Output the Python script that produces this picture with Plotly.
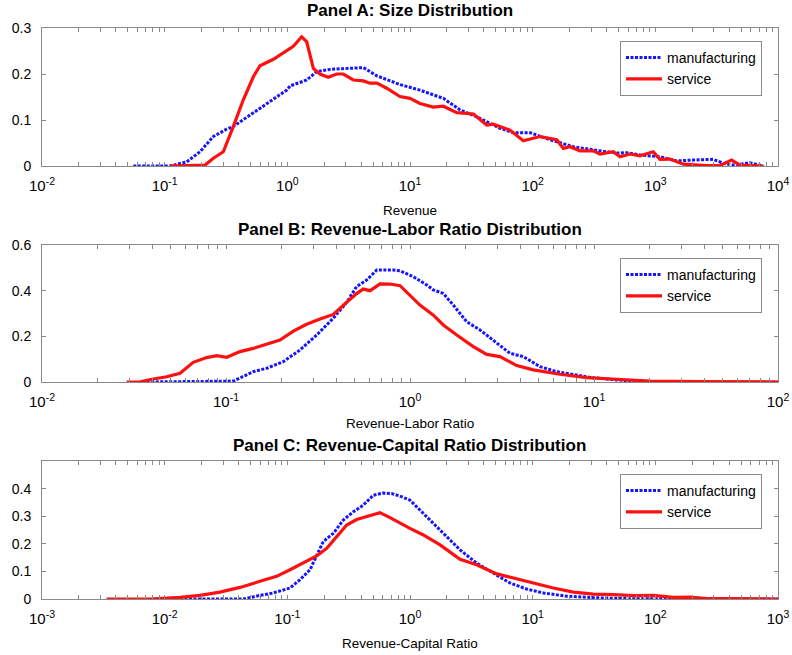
import numpy as np
import plotly.graph_objects as go

# Panel A: Size distribution (Revenue)
a_manu_exp = [-1.256, -0.957, -0.820, -0.712, -0.603, -0.495, -0.440, -0.277, -0.168, -0.005, 0.022,
              0.158, 0.239, 0.348, 0.620, 0.730, 0.918, 1.081, 1.272, 1.408, 1.544, 1.734, 1.842,
              1.978, 2.141, 2.331, 2.494, 2.685, 2.766, 2.875, 3.038, 3.174, 3.310, 3.473, 3.554,
              3.636, 3.772, 3.880]
a_manu_val = [0.000, 0.000, 0.009, 0.031, 0.064, 0.080, 0.086, 0.115, 0.136, 0.165, 0.174,
              0.187, 0.205, 0.210, 0.214, 0.196, 0.177, 0.165, 0.147, 0.122, 0.107, 0.082, 0.0725,
              0.0725, 0.057, 0.042, 0.035, 0.028, 0.029, 0.024, 0.020, 0.011, 0.013, 0.0145, 0.006,
              0.002, 0.007, 0.000]
a_serv_exp = [-0.957, -0.671, -0.603, -0.522, -0.440, -0.359, -0.277, -0.223, -0.114, -0.005, 0.049,
              0.117, 0.158, 0.212, 0.266, 0.334, 0.402, 0.456, 0.538, 0.620, 0.674, 0.730, 0.810,
              0.918, 1.000, 1.081, 1.190, 1.272, 1.381, 1.517, 1.625, 1.680, 1.815, 1.924, 2.060,
              2.196, 2.250, 2.304, 2.386, 2.494, 2.549, 2.658, 2.712, 2.793, 2.875, 2.983, 3.038,
              3.120, 3.228, 3.419, 3.527, 3.622, 3.690, 3.880]
a_serv_val = [0.000, 0.002, 0.017, 0.031, 0.086, 0.144, 0.194, 0.218, 0.232, 0.252, 0.260,
              0.281, 0.270, 0.212, 0.200, 0.193, 0.200, 0.200, 0.187, 0.185, 0.180, 0.180, 0.169,
              0.151, 0.147, 0.136, 0.128, 0.130, 0.116, 0.113, 0.089, 0.091, 0.078, 0.055, 0.064,
              0.057, 0.038, 0.042, 0.033, 0.033, 0.026, 0.031, 0.020, 0.026, 0.022, 0.031, 0.0145,
              0.015, 0.004, 0.001, 0.001, 0.013, 0.002, 0.000]

# Panel B: Revenue-Labor ratio distribution
b_manu_exp = [-1.431, -0.960, -0.852, -0.779, -0.689, -0.598, -0.507, -0.417, -0.344, -0.290,
              -0.235, -0.181, -0.091, -0.054, 0.018, 0.091, 0.127, 0.181, 0.235, 0.308, 0.380,
              0.471, 0.543, 0.616, 0.707, 0.797, 0.888, 0.978, 1.123, 1.304, 1.522, 2.000]
b_manu_val = [0.000, 0.004, 0.045, 0.060, 0.089, 0.140, 0.206, 0.279, 0.349, 0.418,
              0.447, 0.490, 0.490, 0.487, 0.461, 0.425, 0.403, 0.388, 0.337, 0.264, 0.228,
              0.169, 0.126, 0.111, 0.067, 0.045, 0.034, 0.020, 0.009, 0.000, 0.000, 0.000]
b_serv_exp = [-1.540, -1.467, -1.395, -1.322, -1.250, -1.178, -1.105, -1.050, -0.996, -0.924,
              -0.852, -0.779, -0.707, -0.634, -0.562, -0.489, -0.417, -0.344, -0.290, -0.254,
              -0.217, -0.163, -0.109, -0.054, 0.000, 0.054, 0.127, 0.181, 0.254, 0.344, 0.417,
              0.489, 0.580, 0.670, 0.815, 0.960, 1.123, 1.304, 1.576, 2.000]
b_serv_val = [0.000, 0.001, 0.013, 0.023, 0.038, 0.086, 0.107, 0.115, 0.108, 0.133,
              0.147, 0.165, 0.184, 0.223, 0.253, 0.276, 0.296, 0.349, 0.387, 0.407,
              0.400, 0.430, 0.429, 0.422, 0.381, 0.337, 0.293, 0.250, 0.206, 0.155, 0.121,
              0.111, 0.072, 0.053, 0.034, 0.019, 0.012, 0.004, 0.0015, 0.000]

# Panel C: Revenue-Capital ratio distribution
c_manu_exp = [-1.875, -1.359, -1.223, -1.114, -0.978, -0.897, -0.815, -0.761, -0.707, -0.625,
              -0.544, -0.462, -0.381, -0.299, -0.218, -0.149, -0.082, 0.000, 0.136, 0.271,
              0.408, 0.543, 0.679, 0.815, 0.951, 1.087, 1.277, 1.549, 1.821, 2.364, 3.000]
c_manu_val = [0.000, 0.000, 0.013, 0.022, 0.040, 0.070, 0.106, 0.154, 0.208, 0.238,
              0.286, 0.316, 0.340, 0.376, 0.384, 0.382, 0.373, 0.358, 0.298, 0.238,
              0.178, 0.130, 0.094, 0.058, 0.036, 0.022, 0.010, 0.004, 0.001, 0.000, 0.000]
c_serv_exp = [-2.473, -2.120, -1.875, -1.712, -1.549, -1.386, -1.223, -1.087, -0.978, -0.870,
              -0.761, -0.679, -0.598, -0.516, -0.435, -0.326, -0.245, -0.163, -0.082, 0.000,
              0.109, 0.245, 0.408, 0.543, 0.707, 0.842, 1.005, 1.168, 1.332, 1.495, 1.658,
              1.821, 1.984, 2.147, 2.283, 2.446, 2.636, 3.000]
c_serv_val = [0.000, 0.000, 0.006, 0.013, 0.025, 0.042, 0.064, 0.082, 0.106, 0.130,
              0.156, 0.184, 0.226, 0.268, 0.288, 0.304, 0.313, 0.295, 0.274, 0.256,
              0.232, 0.196, 0.144, 0.124, 0.091, 0.076, 0.058, 0.040, 0.025, 0.018, 0.016,
              0.012, 0.013, 0.006, 0.007, 0.001, 0.001, 0.000]

series_names = ["manufacturing", "service"]
panel_titles = ["Panel A: Size Distribution",
                "Panel B: Revenue-Labor Ratio Distribution",
                "Panel C: Revenue-Capital Ratio Distribution"]
x_titles = ["Revenue", "Revenue-Labor Ratio", "Revenue-Capital Ratio"]
x_decades = [(-2, 4), (-2, 2), (-3, 3)]
y_ranges = [(0, 0.3), (0, 0.6), (0, 0.5)]
y_ticks = [[0, 0.1, 0.2, 0.3], [0, 0.2, 0.4, 0.6], [0, 0.1, 0.2, 0.3, 0.4]]

# ---------------- FIGURE ----------------
W, H = 792, 655
FONT = "Liberation Sans, Arial, Helvetica, sans-serif"
BLUE = "#1414ff"
RED = "#ff1010"
AXC = "#8a8a8a"

# panel placement (pixels)
left_px, right_px = 42, 778
panel_tb = [(28, 166), (245, 382), (461, 599)]
title_y = [10, 230, 445]
xlabel_y = [210, 423, 643]

fig = go.Figure()

panels = [
    (a_manu_exp, a_manu_val, a_serv_exp, a_serv_val),
    (b_manu_exp, b_manu_val, b_serv_exp, b_serv_val),
    (c_manu_exp, c_manu_val, c_serv_exp, c_serv_val),
]

for i, (me, mv, se, sv) in enumerate(panels):
    xa = "x" if i == 0 else f"x{i+1}"
    ya = "y" if i == 0 else f"y{i+1}"
    lg = "legend" if i == 0 else f"legend{i+1}"
    fig.add_trace(go.Scatter(x=10 ** np.array(me), y=mv, mode="lines", name=series_names[0],
                             line=dict(color=BLUE, width=3, dash="3px,1.5px"),
                             xaxis=xa, yaxis=ya, legend=lg))
    fig.add_trace(go.Scatter(x=10 ** np.array(se), y=sv, mode="lines", name=series_names[1],
                             line=dict(color=RED, width=3.2),
                             xaxis=xa, yaxis=ya, legend=lg))

layout = dict(
    width=W, height=H, autosize=False,
    margin=dict(l=0, r=0, t=0, b=0, pad=0, autoexpand=False),
    paper_bgcolor="white", plot_bgcolor="white",
    font=dict(family=FONT, size=14, color="black"),
    showlegend=True,
)

annotations = []
xd0 = left_px / W
xd1 = right_px / W
for i in range(3):
    top, bot = panel_tb[i]
    lo, hi = x_decades[i]
    major_vals = [10.0 ** k for k in range(lo, hi + 1)]
    major_text = [f"10<sup>{k}</sup>" for k in range(lo, hi + 1)]
    minor_vals = [m * 10.0 ** k for k in range(lo, hi) for m in range(2, 10)]
    xkey = "xaxis" if i == 0 else f"xaxis{i+1}"
    ykey = "yaxis" if i == 0 else f"yaxis{i+1}"
    xref = "x" if i == 0 else f"x{i+1}"
    yref = "y" if i == 0 else f"y{i+1}"
    layout[xkey] = dict(
        type="log", range=[lo, hi], domain=[xd0, xd1], anchor=yref, automargin=False,
        tickmode="array", tickvals=major_vals, ticktext=major_text,
        ticks="inside", ticklen=4, tickcolor=AXC, tickwidth=1,
        minor=dict(tickmode="array", tickvals=minor_vals, ticks="inside", ticklen=4,
                   tickcolor=AXC, tickwidth=1, showgrid=False),
        showline=True, linecolor=AXC, linewidth=1, mirror="ticks",
        showgrid=False, zeroline=False, ticklabelstandoff=6,
        tickfont=dict(size=15, family=FONT, color="black"),
    )
    layout[ykey] = dict(
        range=list(y_ranges[i]), domain=[1 - bot / H, 1 - top / H], anchor=xref, automargin=False,
        tickmode="array", tickvals=y_ticks[i], ticktext=[f"{v:g}" for v in y_ticks[i]],
        ticks="inside", ticklen=4, tickcolor=AXC, tickwidth=1,
        showline=True, linecolor=AXC, linewidth=1, mirror="ticks",
        showgrid=False, zeroline=False, ticklabelstandoff=7,
        tickfont=dict(size=14, family=FONT, color="black"),
    )
    lgkey = "legend" if i == 0 else f"legend{i+1}"
    layout[lgkey] = dict(
        x=762 / W, xanchor="right", y=1 - (top + 13) / H, yanchor="top",
        bordercolor=AXC, borderwidth=1, bgcolor="white",
        font=dict(size=14, family=FONT, color="black"),
        itemwidth=36, tracegroupgap=0,
    )
    annotations.append(dict(
        text=f"<b>{panel_titles[i]}</b>", x=(left_px + right_px) / 2 / W, y=1 - title_y[i] / H,
        xref="paper", yref="paper", showarrow=False, xanchor="center", yanchor="middle",
        font=dict(size=17, family=FONT, color="black"),
    ))
    annotations.append(dict(
        text=x_titles[i], x=(left_px + right_px) / 2 / W, y=1 - xlabel_y[i] / H,
        xref="paper", yref="paper", showarrow=False, xanchor="center", yanchor="middle",
        font=dict(size=13.5, family=FONT, color="black"),
    ))

layout["annotations"] = annotations
fig.update_layout(**layout)
fig.write_html("out.html",
               post_script="document.body.style.margin='0';document.body.style.overflow='hidden';")
